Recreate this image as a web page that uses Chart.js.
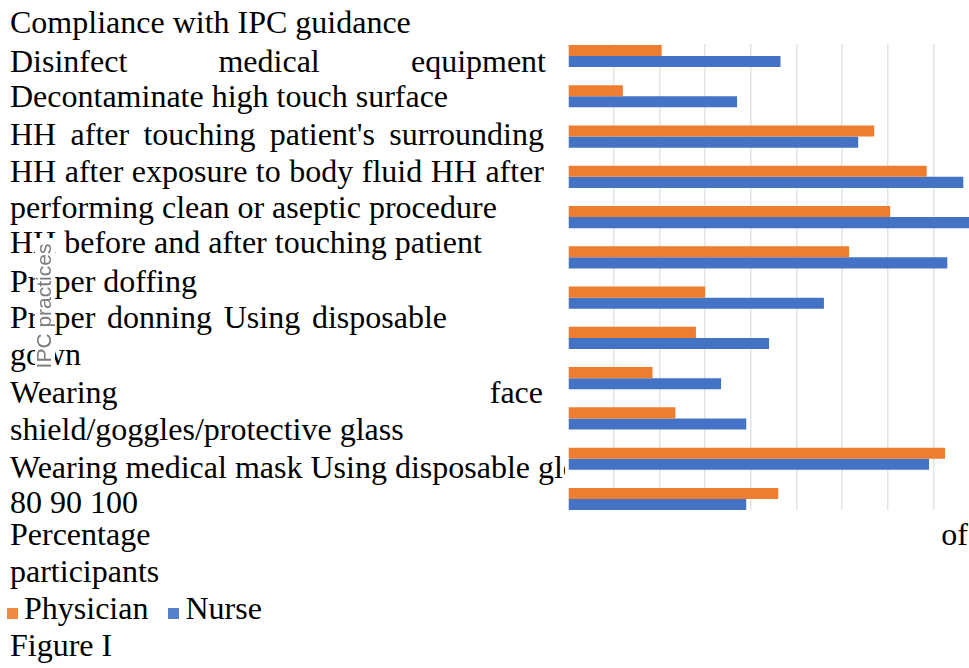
<!DOCTYPE html>
<html>
<head>
<meta charset="utf-8">
<script src="https://cdn.jsdelivr.net/npm/chart.js@4.4.1/dist/chart.umd.min.js"></script>
<style>
  html, body { margin: 0; padding: 0; background: #ffffff; overflow: hidden; width: 969px; height: 668px; }
  #page { position: relative; width: 969px; height: 668px; overflow: hidden; background: #fff; }
  .ln { position: absolute; left: 10px; font-family: "Liberation Serif", "Times New Roman", serif; font-size: 32px; line-height: 32px; color: #000; white-space: nowrap; }
  .sq { display: inline-block; width: 11px; height: 11px; vertical-align: baseline; opacity: 0.9; }
  #wrap { position: absolute; left: 0; top: 0; width: 1060px; height: 668px; }
</style>
</head>
<body>
<div id="page">
  <div id="text"></div>
  <div id="wrap"><canvas id="c" width="1060" height="668"></canvas></div>
</div>
<script>
// ---- chart data ----
const categories = [
  "Disinfect medical equipment",
  "Decontaminate high touch surface",
  "HH after touching patient's surrounding",
  "HH after exposure to body fluid",
  "HH after performing clean or aseptic procedure",
  "HH before and after touching patient",
  "Proper doffing",
  "Proper donning",
  "Using disposable gown",
  "Wearing face shield/goggles/protective glass",
  "Wearing medical mask",
  "Using disposable gloves"
];
const seriesNames = ["Physician", "Nurse"];
const physicianValues = [20.5, 12, 67, 78.5, 70.5, 61.5, 30, 28, 18.5, 23.5, 82.5, 46];
const nurseValues     = [46.5, 37, 63.5, 86.5, 91, 83, 56, 44, 33.5, 39, 79, 39];
const xTickValues = [0, 10, 20, 30, 40, 50, 60, 70, 80, 90, 100];
const yAxisTitle = "IPC practices";
const xAxisTitle = "Percentage of participants";
const figureLabel = "Figure I";

const colors = ["#ED7D31", "#4472C4"];

// ---- page text (text layer of the figure) ----
const textLines = [
  { t: "Compliance with IPC guidance", base: 33 },
  { t: "Disinfect medical equipment", base: 72, right: 546 },
  { t: "Decontaminate high touch surface", base: 107 },
  { t: "HH after touching patient's surrounding", base: 145, right: 544 },
  { t: "HH after exposure to body fluid HH after", base: 182, right: 544 },
  { t: "performing clean or aseptic procedure", base: 218 },
  { t: "HH before and after touching patient", base: 253 },
  { t: "Proper doffing", base: 292 },
  { t: "Proper donning Using disposable", base: 328, right: 447 },
  { t: "gown", base: 365 },
  { t: "Wearing face", base: 403, right: 543 },
  { t: "shield/goggles/protective glass", base: 440 },
  { t: "Wearing medical mask Using disposable gloves", base: 478 },
  { t: "80 90 100", base: 513 },
  { t: "Percentage of", base: 545, right: 968 },
  { t: "participants", base: 582 },
  { legend: true, base: 619 },
  { t: figureLabel, base: 656 }
];

const textBox = document.getElementById("text");
textLines.forEach(function (L) {
  const d = document.createElement("div");
  d.className = "ln";
  d.style.top = (L.base - 27) + "px";
  if (L.legend) {
    d.style.left = "7px";
    seriesNames.forEach(function (n, i) {
      const s = document.createElement("span");
      s.className = "sq";
      s.style.background = colors[i];
      s.style.marginRight = "6px";
      if (i > 0) s.style.marginLeft = "12px";
      d.appendChild(s);
      d.appendChild(document.createTextNode(n + (i < seriesNames.length - 1 ? " " : "")));
    });
  } else {
    d.textContent = L.t;
  }
  textBox.appendChild(d);
  if (L.right) {
    const natural = d.getBoundingClientRect().width;
    const gaps = L.t.split(" ").length - 1;
    if (gaps > 0) {
      const extra = (L.right - 10 - natural) / gaps;
      d.style.wordSpacing = extra + "px";
    }
  }
});

// ---- chart ----
const plotLeft = 568, plotRight = 1025, plotTop = 35.9, plotBottom = 519.1;
const imgLeft = 565, imgTop = 44, imgBottom = 510;

const patchPlugin = {
  id: "patches",
  beforeDraw(chart) {
    const ctx = chart.ctx;
    ctx.save();
    ctx.fillStyle = "#ffffff";
    ctx.fillRect(imgLeft, 40, chart.width - imgLeft, 475);
    // y-axis title patch
    ctx.fillRect(35, 238, 20, 135);
    ctx.translate(45, 306);
    ctx.rotate(-Math.PI / 2);
    ctx.filter = "blur(0.6px)";
    ctx.fillStyle = "#7c7c7c";
    ctx.font = "21px 'Liberation Sans', Arial, sans-serif";
    ctx.textAlign = "center";
    ctx.textBaseline = "middle";
    ctx.fillText(yAxisTitle, 0, 0);
    ctx.restore();
  },
  beforeDatasetsDraw(chart) {
    const a = chart.chartArea, ctx = chart.ctx;
    ctx.save();
    ctx.fillStyle = "#ffffff";
    ctx.fillRect(a.left - 1, a.top - 1, a.right - a.left + 2, imgTop - a.top + 1);
    ctx.fillRect(a.left - 1, imgBottom, a.right - a.left + 2, a.bottom - imgBottom + 2);
    ctx.restore();
  }
};

new Chart(document.getElementById("c"), {
  type: "bar",
  data: {
    labels: categories,
    datasets: [
      { label: seriesNames[0], data: physicianValues, backgroundColor: colors[0], categoryPercentage: 0.55, barPercentage: 1.0 },
      { label: seriesNames[1], data: nurseValues, backgroundColor: colors[1], categoryPercentage: 0.55, barPercentage: 1.0 }
    ]
  },
  options: {
    indexAxis: "y",
    responsive: false,
    animation: false,
    devicePixelRatio: 1,
    layout: { padding: { left: plotLeft, right: 1060 - plotRight, top: plotTop, bottom: 668 - plotBottom } },
    scales: {
      x: {
        min: 0, max: 100,
        afterBuildTicks(scale) { scale.ticks = xTickValues.map(v => ({ value: v })); },
        ticks: { display: false },
        grid: {
          drawTicks: false,
          color: c => (c.tick && c.tick.value === 0) ? "rgba(0,0,0,0)" : "#e4e4e4",
          lineWidth: 1.5
        },
        border: { display: false },
        title: { display: false, text: xAxisTitle },
        afterFit(scale) { scale.height = 0; }
      },
      y: { display: false }
    },
    plugins: { legend: { display: false }, tooltip: { enabled: false } }
  },
  plugins: [patchPlugin]
});
</script>
</body>
</html>
